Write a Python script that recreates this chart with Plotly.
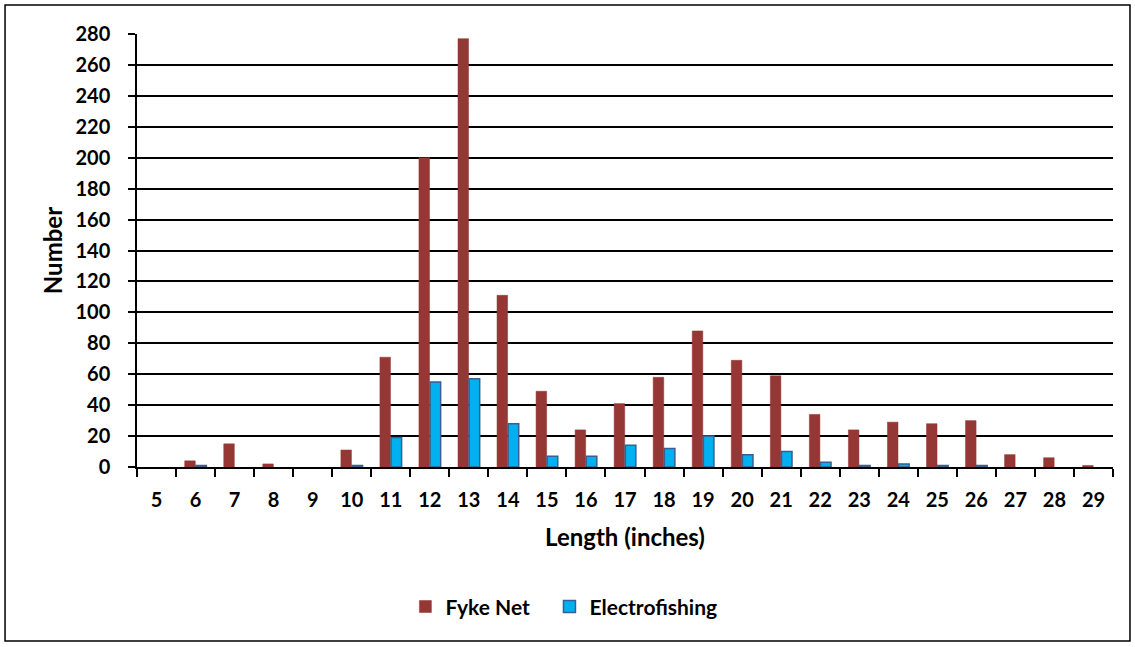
import plotly.graph_objects as go

lengths = [str(i) for i in range(5, 30)]
fyke_net = [0, 4, 15, 2, 0, 11, 71, 200, 277, 111, 49, 24, 41, 58, 88, 69, 59, 34, 24, 29, 28, 30, 8, 6, 1]
electrofishing = [0, 1, 0, 0, 0, 1, 19, 55, 57, 28, 7, 7, 14, 12, 20, 8, 10, 3, 1, 2, 1, 1, 0, 0, 0]
y_ticks = list(range(0, 281, 20))

FONT = "Lato"

fig = go.Figure()
fig.add_trace(go.Bar(x=lengths, y=[v if v else None for v in fyke_net], name="Fyke Net",
                     marker=dict(color="#953735", line=dict(color="#953735", width=0.5)),
                     legend="legend"))
fig.add_trace(go.Bar(x=lengths, y=[v if v else None for v in electrofishing], name="Electrofishing",
                     marker=dict(color="#00B0F0", line=dict(color="#3A5F8F", width=1.5)),
                     legend="legend2"))

legend_common = dict(orientation="h", y=-0.323, yanchor="middle", xanchor="left",
                     font=dict(family=FONT, size=21, color="black", weight="bold"),
                     itemwidth=30, bgcolor="rgba(0,0,0,0)")

fig.update_layout(
    width=1135, height=647,
    margin=dict(l=137, r=22, t=34, b=180),
    paper_bgcolor="white", plot_bgcolor="white",
    barmode="group", bargap=0.43, bargroupgap=0.05,
    font=dict(family=FONT, size=20, color="black"),
    showlegend=True,
    legend=dict(x=0.275, **legend_common),
    legend2=dict(x=0.4226, **legend_common),
    xaxis=dict(
        type="category", showline=True, linecolor="black", linewidth=1.5,
        ticks="outside", tickson="boundaries", ticklen=8, tickcolor="black", tickwidth=1.5,
        tickfont=dict(family=FONT, size=20, color="black", weight="bold"),
        ticklabelstandoff=14,
        showgrid=False,
        title=dict(text="Length (inches)", font=dict(family=FONT, size=24, color="black", weight="bold"), standoff=19),
    ),
    yaxis=dict(
        range=[0, 280], tickvals=y_ticks, showline=True, linecolor="black", linewidth=1.5,
        ticks="outside", ticklen=7, tickcolor="black", tickwidth=1.5,
        showgrid=True, gridcolor="black", gridwidth=1.5, zeroline=False,
        tickfont=dict(family=FONT, size=20, color="black", weight="bold"),
        ticklabelstandoff=14,
        title=dict(text="Number", font=dict(family=FONT, size=24, color="black", weight="bold"), standoff=6),
    ),
    shapes=[dict(type="rect", xref="paper", yref="paper",
                 x0=-0.1352, x1=1.0174, y0=-0.4018, y1=1.067,
                 line=dict(color="black", width=1.5), fillcolor="rgba(0,0,0,0)", layer="below")],
)

fig.write_html("out.html", config={"displayModeBar": False},
               post_script="document.body.style.margin='0';document.body.style.overflow='hidden';")
